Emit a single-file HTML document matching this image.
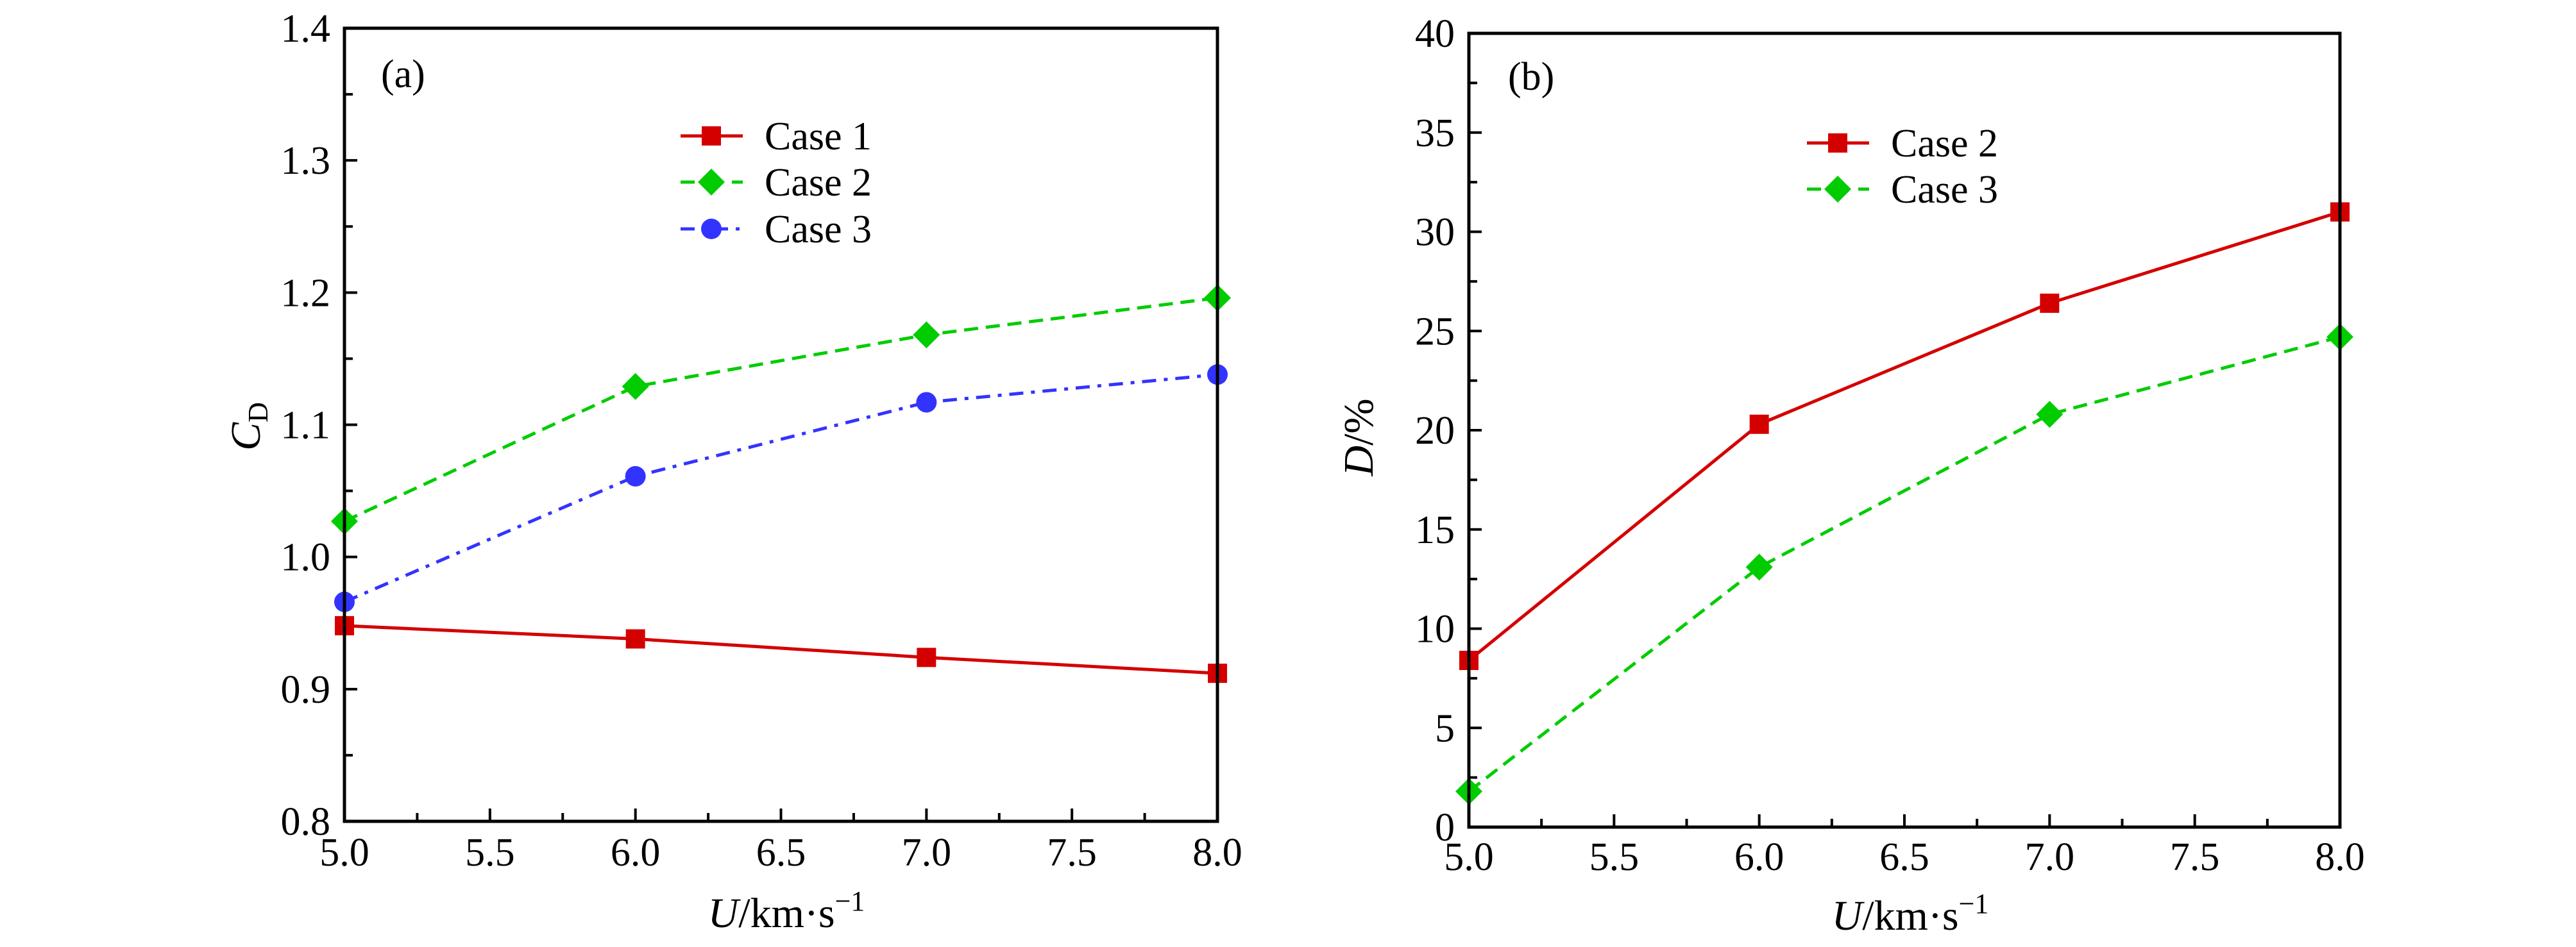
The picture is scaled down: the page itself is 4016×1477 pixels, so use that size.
<!DOCTYPE html>
<html><head><meta charset="utf-8"><style>
html,body{margin:0;padding:0;background:#fff;}
svg, svg text{font-family:"Liberation Serif","DejaVu Serif","Noto Serif CJK SC",serif;}
</style></head><body>
<svg id="fig" width="4016" height="1477" viewBox="0 0 4016 1477" xmlns="http://www.w3.org/2000/svg" style="position:absolute;left:0;top:0"></svg>
<script>
const xCats = [5.0, 6.0, 7.0, 8.0];
const xTicks = [5.0, 5.5, 6.0, 6.5, 7.0, 7.5, 8.0];
const xTickLabels = ["5.0","5.5","6.0","6.5","7.0","7.5","8.0"];
const aCase1 = [0.948, 0.938, 0.924, 0.912];
const aCase2 = [1.027, 1.129, 1.168, 1.196];
const aCase3 = [0.966, 1.061, 1.117, 1.138];
const aYTicks = [0.8, 0.9, 1.0, 1.1, 1.2, 1.3, 1.4];
const aYTickLabels = ["0.8","0.9","1.0","1.1","1.2","1.3","1.4"];
const bCase2 = [8.4, 20.3, 26.4, 31.0];
const bCase3 = [1.8, 13.1, 20.8, 24.7];
const bYTicks = [0, 5, 10, 15, 20, 25, 30, 35, 40];
const bYTickLabels = ["0","5","10","15","20","25","30","35","40"];

const NS = "http://www.w3.org/2000/svg";
const svg = document.getElementById('fig');
function mk(tag, attrs, parent){
  const e = document.createElementNS(NS, tag);
  for (const k in attrs) e.setAttribute(k, attrs[k]);
  (parent||svg).appendChild(e);
  return e;
}
const RED="#d40000", GREEN="#00cc00", BLUE="#3333ff";

function marker(g, type, x, y, color){
  let m;
  if (type==='square') m = mk('rect',{x:x-15,y:y-15,width:30,height:30,fill:color},g);
  else if (type==='diamond') m = mk('polygon',{points:`${x},${y-21} ${x+21},${y} ${x},${y+21} ${x-21},${y}`,fill:color},g);
  else m = mk('circle',{cx:x,cy:y,r:16,fill:color},g);
  return m;
}

function panel(opt){
  const {L,R,T,B,ymin,ymax,yTicks,yLabels,series,name,tickBase} = opt;
  const sx = v => L + (v-5)/(8-5)*(R-L);
  const sy = v => B - (v-ymin)/(ymax-ymin)*(B-T);
  const g = mk('g',{});
  
  
  const tg = mk('g',{stroke:'#000','stroke-width':4},g);
  for (let v=5; v<=8.0001; v+=0.25){
    const major = Math.abs(v*2-Math.round(v*2))<1e-6;
    const len = major?20:13;
    mk('line',{x1:sx(v),x2:sx(v),y1:B,y2:B-len},tg);
  }
  for (let i=0;i<yTicks.length;i++){
    mk('line',{x1:L,x2:L+20,y1:sy(yTicks[i]),y2:sy(yTicks[i])},tg);
    if (i<yTicks.length-1){
      const m=(yTicks[i]+yTicks[i+1])/2;
      mk('line',{x1:L,x2:L+13,y1:sy(m),y2:sy(m)},tg);
    }
  }
  xTicks.forEach((v,i)=>{
    const t = mk('text',{x:sx(v),y:tickBase,'font-size':62,'text-anchor':'middle'},g);
    t.textContent = xTickLabels[i];
    
    
  });
  yTicks.forEach((v,i)=>{
    const t = mk('text',{x:L-22,y:sy(v)+21,'font-size':62,'text-anchor':'end'},g);
    t.textContent = yLabels[i];
    
    
  });
  series.forEach(s=>{
    const sg = mk('g',{},g);
    
    
    const pts = s.vals.map((v,i)=>`${sx(xCats[i])},${sy(v)}`).join(' ');
    mk('polyline',{points:pts,fill:'none',stroke:s.color,'stroke-width':5,'stroke-dasharray':s.dash||'none'},sg);
    s.vals.forEach((v,i)=>{
      const m = marker(sg, s.marker, sx(xCats[i]), sy(v), s.color);
      
      
    });
  });
  const fr = mk('rect',{x:L,y:T,width:R-L,height:B-T,fill:'none',stroke:'#000','stroke-width':5},g);
  
  
  return g;
}

panel({L:537,R:1898,T:44,B:1281,ymin:0.8,ymax:1.4,yTicks:aYTicks,yLabels:aYTickLabels,name:'panel-a',tickBase:1350,
  series:[
    {name:'case1-line',vals:aCase1,color:RED,marker:'square'},
    {name:'case2-line',vals:aCase2,color:GREEN,marker:'diamond',dash:'22 12'},
    {name:'case3-line',vals:aCase3,color:BLUE,marker:'circle',dash:'22 12 6 12'}
  ]});
panel({L:2290,R:3648,T:52,B:1290,ymin:0,ymax:40,yTicks:bYTicks,yLabels:bYTickLabels,name:'panel-b',tickBase:1357,
  series:[
    {name:'b-case2-line',vals:bCase2,color:RED,marker:'square'},
    {name:'b-case3-line',vals:bCase3,color:GREEN,marker:'diamond',dash:'22 12'}
  ]});

function legend(x, rows, name){
  const g = mk('g',{});
  
  
  rows.forEach(r=>{
    const eg = mk('g',{},g);
    
    
    mk('line',{x1:x,x2:x+97,y1:r.y,y2:r.y,stroke:r.color,'stroke-width':5,'stroke-dasharray':r.dash||'none'},eg);
    marker(eg, r.marker, x+48, r.y, r.color);
    const t = mk('text',{x:x+131,y:r.y+21,'font-size':62},eg);
    t.textContent = r.label;
  });
}
legend(1061,[
  {y:212,color:RED,marker:'square',label:'Case 1'},
  {y:284,color:GREEN,marker:'diamond',dash:'22 18',label:'Case 2'},
  {y:357,color:BLUE,marker:'circle',dash:'22 12 6 12',label:'Case 3'}
],'legend-a');
legend(2817,[
  {y:223,color:RED,marker:'square',label:'Case 2'},
  {y:295,color:GREEN,marker:'diamond',dash:'22 18',label:'Case 3'}
],'legend-b');
</script>
<svg style="position:absolute;left:0;top:0" width="4016" height="1477">
  <text x="594" y="136" font-size="62">(a)</text>
  <text x="2351" y="140" font-size="62">(b)</text>
  <text transform="translate(405,665) rotate(-90)" font-size="66" text-anchor="middle"><tspan font-style="italic">C</tspan><tspan font-size="44" dy="12">D</tspan></text>
  <text transform="translate(2140,682) rotate(-90)" font-size="66" text-anchor="middle"><tspan font-style="italic">D</tspan>/%</text>
  <text x="1226" y="1446" font-size="66" text-anchor="middle"><tspan font-style="italic">U</tspan>/km·s<tspan font-size="44" dy="-26">−1</tspan></text>
  <text x="2978" y="1450" font-size="66" text-anchor="middle"><tspan font-style="italic">U</tspan>/km·s<tspan font-size="44" dy="-26">−1</tspan></text>
</svg>
</body></html>
